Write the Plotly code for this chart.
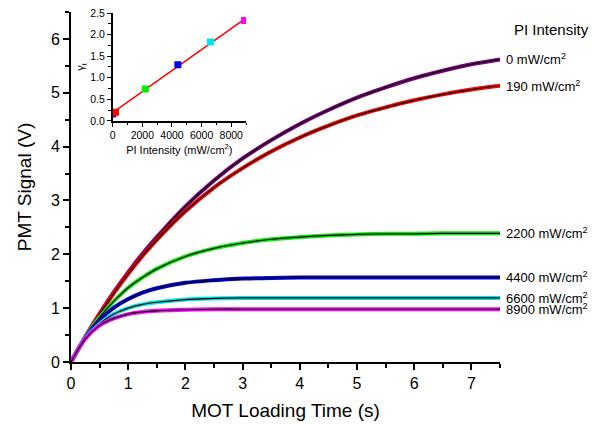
import plotly.graph_objects as go

# ---- main chart data ----
time_s = [0, 0.25, 0.5, 0.75, 1, 1.25, 1.5, 2, 2.5, 3, 3.5, 4, 4.5, 5, 5.5, 6, 6.5, 7, 7.5]

sig_0 = [0, 0.47, 0.90, 1.30, 1.67, 2.01, 2.32, 2.89, 3.37, 3.78, 4.12, 4.42, 4.68, 4.91, 5.10, 5.27, 5.41, 5.53, 5.62]
sig_190 = [0, 0.46, 0.89, 1.28, 1.64, 1.97, 2.27, 2.80, 3.24, 3.60, 3.91, 4.17, 4.39, 4.58, 4.73, 4.86, 4.97, 5.06, 5.13]
sig_2200 = [0, 0.46, 0.83, 1.13, 1.38, 1.57, 1.73, 1.96, 2.11, 2.21, 2.28, 2.32, 2.35, 2.37, 2.38, 2.38, 2.39, 2.39, 2.39]
sig_4400 = [0, 0.45, 0.78, 1.01, 1.17, 1.29, 1.37, 1.47, 1.52, 1.55, 1.56, 1.57, 1.57, 1.57, 1.57, 1.57, 1.57, 1.57, 1.57]
sig_6600 = [0, 0.44, 0.71, 0.89, 1.00, 1.07, 1.11, 1.16, 1.18, 1.19, 1.19, 1.19, 1.19, 1.19, 1.19, 1.19, 1.19, 1.19, 1.19]
sig_8900 = [0, 0.43, 0.68, 0.81, 0.89, 0.93, 0.95, 0.97, 0.98, 0.98, 0.98, 0.98, 0.98, 0.98, 0.98, 0.98, 0.98, 0.98, 0.98]

series_labels = ["0 mW/cm<sup>2</sup>", "190 mW/cm<sup>2</sup>", "2200 mW/cm<sup>2</sup>",
                 "4400 mW/cm<sup>2</sup>", "6600 mW/cm<sup>2</sup>", "8900 mW/cm<sup>2</sup>"]
series_values = [sig_0, sig_190, sig_2200, sig_4400, sig_6600, sig_8900]
series_colors = ["#800080", "#ff0000", "#00ee00", "#0000e6", "#00e5e5", "#ff00ff"]

# ---- inset data ----
pi_intensity = [0, 190, 2200, 4400, 6600, 8900]
gamma_t = [0.16, 0.20, 0.74, 1.30, 1.83, 2.33]
fit_x = [0, 8900]
fit_y = [0.19, 2.36]

FONT = "Liberation Sans, Arial, sans-serif"

fig = go.Figure()

for vals, col in zip(series_values, series_colors):
    fig.add_trace(go.Scatter(x=time_s, y=vals, mode="lines", line=dict(color=col, width=4, shape="spline"),
                             showlegend=False, hoverinfo="skip"))
    fig.add_trace(go.Scatter(x=time_s, y=vals, mode="lines", line=dict(color="black", width=1.2, shape="spline"),
                             showlegend=False, hoverinfo="skip"))

# inset
fig.add_trace(go.Scatter(x=fit_x, y=fit_y, mode="lines", line=dict(color="#ff0000", width=1.5),
                         xaxis="x2", yaxis="y2", showlegend=False))
fig.add_trace(go.Scatter(x=pi_intensity, y=gamma_t, mode="markers",
                         marker=dict(symbol="square", size=7, color=series_colors, line=dict(width=0)),
                         xaxis="x2", yaxis="y2", showlegend=False))

# curve labels
for lab, vals in zip(series_labels, series_values):
    fig.add_annotation(x=time_s[-1], y=vals[-1], xref="x", yref="y", text=lab, showarrow=False,
                       xanchor="left", yanchor="middle", xshift=4, font=dict(family=FONT, size=13, color="black"))
fig.add_annotation(x=1.121, y=0.95, xref="paper", yref="paper", text="PI Intensity", showarrow=False,
                   xanchor="center", yanchor="middle", font=dict(family=FONT, size=15, color="black"))

axis_common = dict(showline=True, linecolor="black", ticks="outside", tickcolor="black",
                   showgrid=False, zeroline=False, mirror=False, automargin=False)

fig.update_layout(
    width=594, height=424,
    margin=dict(l=71, r=94, t=12, b=62, autoexpand=False),
    paper_bgcolor="white", plot_bgcolor="white",
    font=dict(family=FONT, color="black"),
    xaxis=dict(**axis_common, range=[0, 7.5], domain=[0, 1], linewidth=2, tickwidth=2, ticklen=6,
               dtick=1, tick0=0, tickfont=dict(size=16),
               minor=dict(dtick=0.5, ticklen=4, tickwidth=2, ticks="outside", tickcolor="black"),
               title=dict(text="MOT Loading Time (s)", font=dict(size=19), standoff=12)),
    yaxis=dict(**axis_common, range=[0, 6.5], domain=[0, 1], linewidth=2, tickwidth=2, ticklen=6,
               dtick=1, tick0=0, tickfont=dict(size=16),
               minor=dict(dtick=0.5, ticklen=4, tickwidth=2, ticks="outside", tickcolor="black"),
               title=dict(text="PMT Signal (V)", font=dict(size=19), standoff=14)),
    xaxis2=dict(**axis_common, range=[0, 9000], domain=[0.0972, 0.408], anchor="y2", linewidth=1.5,
                tickwidth=1.2, ticklen=4, dtick=2000, tick0=0, tickfont=dict(size=10.5),
                minor=dict(dtick=1000, ticklen=2.5, tickwidth=1.2, ticks="outside", tickcolor="black"),
                title=dict(text="PI Intensity (mW/cm<sup>2</sup>)", font=dict(size=11), standoff=6)),
    yaxis2=dict(**axis_common, range=[0, 2.5], domain=[0.689, 0.997], anchor="x2", linewidth=1.5,
                tickwidth=1.2, ticklen=4, dtick=0.5, tick0=0, tickformat=".1f", tickfont=dict(size=10.5),
                minor=dict(dtick=0.25, ticklen=2.5, tickwidth=1.2, ticks="outside", tickcolor="black"),
                title=dict(text="γ<sub>t</sub>", font=dict(size=11), standoff=3)),
)

fig.write_html("out.html", config={"displayModeBar": False},
               post_script="document.body.style.margin='0';document.body.style.overflow='hidden';")
